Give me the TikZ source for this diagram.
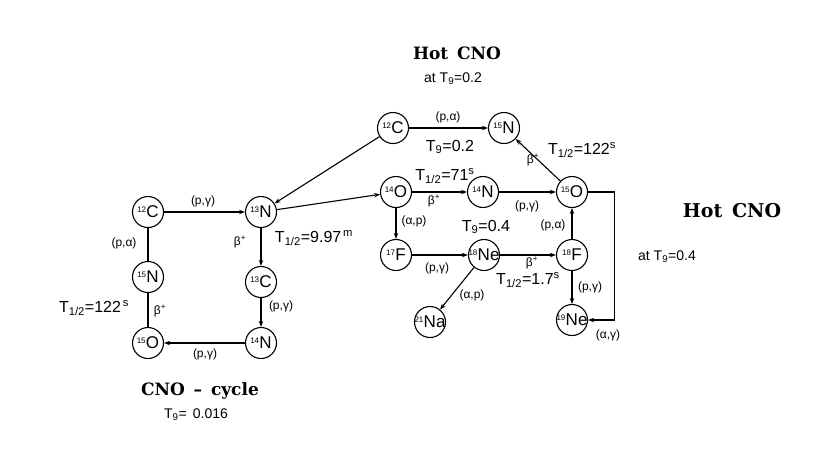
\documentclass[tikz,border=0pt]{standalone}
\usepackage{fontspec}
\setmainfont{Liberation Sans}
\newfontfamily\titlefont{DejaVu Serif}
\usetikzlibrary{arrows.meta}
\newcommand{\nuc}[2]{\makebox[0pt][c]{\raisebox{5pt}{\fontsize{8}{8}\selectfont #1}\kern0.3pt{\fontsize{17}{17}\selectfont #2}}}
\newcommand{\Tnine}{T\textsubscript{9}}
\newcommand{\Thalf}{T\textsubscript{1/2}}
\newcommand{\bplus}{β\textsuperscript{+}}
\begin{document}
\begin{tikzpicture}[x=1pt,y=-1pt,
  nucl/.style={circle,draw,line width=1.1pt,minimum size=31pt,inner sep=0pt},
  conn/.style={line width=1.1pt},
  arr/.style={conn,-{Stealth[length=6pt,width=4.5pt]}},
  lab/.style={font=\fontsize{12}{12}\selectfont,inner sep=1pt},
  big/.style={font=\fontsize{16}{16}\selectfont,inner sep=1pt},
  mid/.style={font=\fontsize{14}{14}\selectfont,inner sep=1pt},
  ttl/.style={font=\titlefont\bfseries\fontsize{17}{17}\selectfont,inner sep=0pt}]
\useasboundingbox (0,0) rectangle (830,459);
% nuclei
\node[nucl] (c12a) at (148,212) {\nuc{12}{C}};
\node[nucl] (n13)  at (261,212) {\nuc{13}{N}};
\node[nucl] (n15a) at (148,277) {\nuc{15}{N}};
\node[nucl] (o15a) at (148,343) {\nuc{15}{O}};
\node[nucl] (c13)  at (261,282) {\nuc{13}{C}};
\node[nucl] (n14a) at (261,343) {\nuc{14}{N}};
\node[nucl] (c12b) at (393,128) {\nuc{12}{C}};
\node[nucl] (n15b) at (504,128) {\nuc{15}{N}};
\node[nucl] (o14)  at (396,192) {\nuc{14}{O}};
\node[nucl] (n14b) at (483,192) {\nuc{14}{N}};
\node[nucl] (o15b) at (572,192) {\nuc{15}{O}};
\node[nucl] (f17)  at (396,255) {\nuc{17}{F}};
\node[nucl] (ne18) at (484,255) {\nuc{18}{Ne}};
\node[nucl] (f18)  at (572,255) {\nuc{18}{F}};
\node[nucl] (ne19) at (572,320) {\nuc{19}{Ne}};
\node[nucl] (na21) at (430,322) {\nuc{21}{Na}};
% connectors
\draw[arr] (c12a) -- (n13);
\draw[conn] (c12a) -- (n15a);
\draw[conn] (n15a) -- (o15a);
\draw[arr] (n14a) -- (o15a);
\draw[arr] (n13) -- (c13);
\draw[arr] (c13) -- (n14a);
\draw[arr] (c12b) -- (n13);
\draw[arr] (n13) -- (o14);
\draw[arr] (c12b) -- (n15b);
\draw[arr] (o15b) -- (n15b);
\draw[arr] (o14) -- (n14b);
\draw[arr] (n14b) -- (o15b);
\draw[arr] (o14) -- (f17);
\draw[arr] (f17) -- (ne18);
\draw[arr] (ne18) -- (f18);
\draw[arr] (f18) -- (o15b);
\draw[arr] (f18) -- (ne19);
\draw[arr] (ne18) -- (na21);
\draw[arr] (o15b.east) -- ++(26,0) |- (ne19.east);
% labels, CNO cycle
\node[lab] (l1) at (203,201) {(p,γ)};
\node[lab] (l2) at (124,243) {(p,α)};
\node[lab] (l3) at (160,311) {\bplus};
\node[big] (l4) at (94,308) {\Thalf=122\textsuperscript{\,s}};
\node[lab] (l5) at (205,354) {(p,γ)};
\node[lab] (l6) at (240,242) {\bplus};
\node[big] (l7) at (314,238) {\Thalf=9.97\textsuperscript{\,m}};
\node[lab] (l8) at (281,306) {(p,γ)};
\node[ttl] (t1) at (200,391) {CNO \,\textendash\, cycle};
\node[mid] (t2) at (196,415) {\Tnine= \,0.016};
% labels, hot CNO
\node[ttl] (t3) at (457,53) {Hot\, CNO};
\node[mid] (t4) at (453,79) {at \Tnine =0.2};
\node[lab] (l9) at (448,117) {(p,α)};
\node[big] (l10) at (450,147) {\Tnine =0.2};
\node[big] (l11) at (582,150) {\Thalf=122\textsuperscript{s}};
\node[lab] (l12) at (533,160) {\bplus};
\node[big] (l13) at (445,176) {\Thalf=71\textsuperscript{s}};
\node[lab] (l14) at (434,201) {\bplus};
\node[lab] (l15) at (527,206) {(p,γ)};
\node[lab] (l16) at (414,221) {(α,p)};
\node[big] (l17) at (486,227) {\Tnine =0.4};
\node[lab] (l18) at (553,225) {(p,α)};
\node[lab] (l19) at (437,268) {(p,γ)};
\node[lab] (l20) at (532,263) {\bplus};
\node[big] (l21) at (528,280) {\Thalf=1.7\textsuperscript{s}};
\node[lab] (l22) at (472,295) {(α,p)};
\node[lab] (l23) at (590,287) {(p,γ)};
\node[lab] (l24) at (608,335) {(α,γ)};
\node[mid] (t5) at (667,257) {at \Tnine =0.4};
\node[ttl,font=\titlefont\bfseries\fontsize{19}{19}\selectfont] (t6) at (732,211) {Hot\, CNO};
\end{tikzpicture}
\end{document}
